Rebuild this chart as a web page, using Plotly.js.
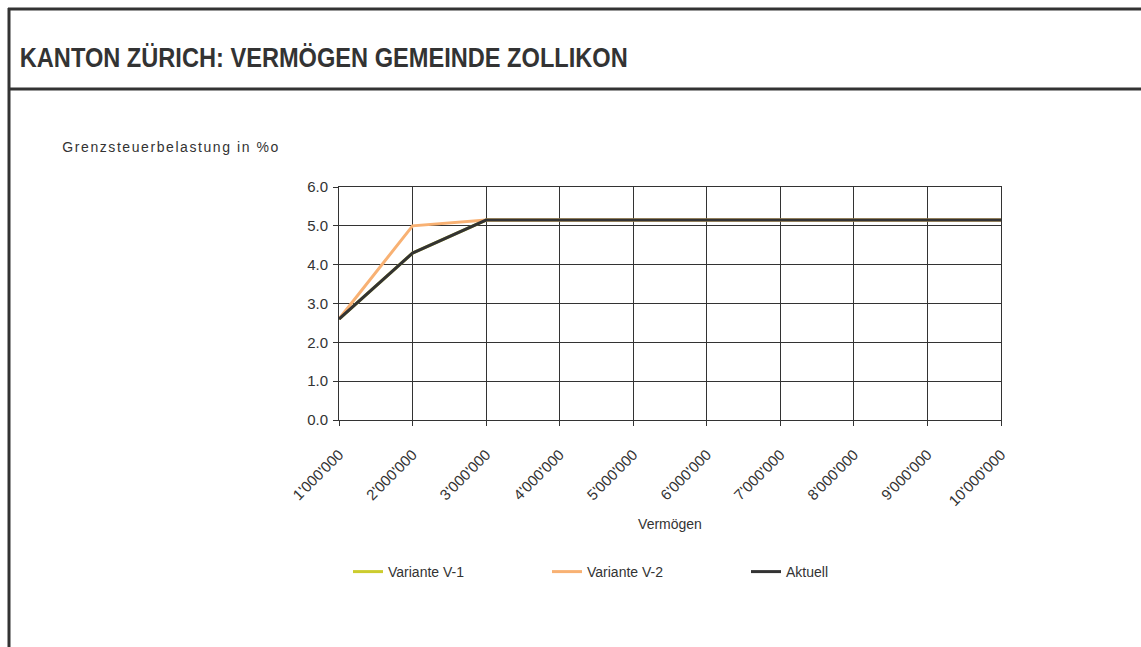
<!DOCTYPE html>
<html>
<head>
<meta charset="utf-8">
<script src="https://cdn.plot.ly/plotly-3.0.1.min.js"></script>
<style>
html,body{margin:0;padding:0;background:#fff;}
#chart{width:1141px;height:647px;}
</style>
</head>
<body>
<div id="chart"></div>
<script>
var vermoegen = [1000000, 2000000, 3000000, 4000000, 5000000, 6000000, 7000000, 8000000, 9000000, 10000000];
var tickLabels = ["1'000'000","2'000'000","3'000'000","4'000'000","5'000'000","6'000'000","7'000'000","8'000'000","9'000'000","10'000'000"];
var varianteV1 = [2.6, 4.3, 5.15, 5.15, 5.15, 5.15, 5.15, 5.15, 5.15, 5.15];
var varianteV2 = [2.6, 5.0, 5.15, 5.15, 5.15, 5.15, 5.15, 5.15, 5.15, 5.15];
var aktuell    = [2.6, 4.3, 5.15, 5.15, 5.15, 5.15, 5.15, 5.15, 5.15, 5.15];
var yTicks = [0, 1, 2, 3, 4, 5, 6];

var W = 1141, H = 647, L = 339, R = 140, T = 187, B = 227;
var pw = W - L - R, ph = H - T - B;
function px(x){ return (x - L) / pw; }
function py(y){ return (H - B - y) / ph; }

var font = "Liberation Sans, Arial, sans-serif";
var traces = [
  {x: vermoegen, y: varianteV1, name: 'Variante V-1', mode: 'lines', line: {color: '#cccc2e', width: 3}},
  {x: vermoegen, y: varianteV2, name: 'Variante V-2', mode: 'lines', line: {color: '#f8b173', width: 3}},
  {x: vermoegen, y: aktuell, name: 'Aktuell', mode: 'lines', line: {color: '#333333', width: 3}}
];

var layout = {
  width: W, height: H,
  margin: {l: L, r: R, t: T, b: B, pad: 0},
  paper_bgcolor: '#ffffff', plot_bgcolor: '#ffffff',
  font: {family: font, size: 14, color: '#333333'},
  showlegend: true,
  legend: {
    orientation: 'h', x: px(348), y: py(572), xanchor: 'left', yanchor: 'middle',
    entrywidth: 154, entrywidthmode: 'pixels',
    font: {family: font, size: 14, color: '#333333'},
    bgcolor: 'rgba(0,0,0,0)', itemclick: false
  },
  xaxis: {
    type: 'linear', range: [1000000, 10000000],
    tickmode: 'array', tickvals: vermoegen, ticktext: tickLabels,
    tickangle: -45, ticks: 'outside', ticklen: 5, tickcolor: '#333',
    ticklabelstandoff: 14,
    showgrid: true, gridcolor: '#333333', gridwidth: 1,
    showline: true, linecolor: '#333333', linewidth: 1, mirror: true,
    zeroline: false, fixedrange: true,
    tickfont: {family: font, size: 15, color: '#333333'},
    title: {text: 'Vermögen', font: {family: font, size: 14, color: '#333333'}, standoff: 11}
  },
  yaxis: {
    range: [0, 6], tickmode: 'array', tickvals: yTicks,
    tickformat: '.1f', ticks: 'outside', ticklen: 5, tickcolor: '#333',
    ticklabelstandoff: 2,
    showgrid: true, gridcolor: '#333333', gridwidth: 1,
    showline: true, linecolor: '#333333', linewidth: 1, mirror: true,
    zeroline: false, fixedrange: true,
    tickfont: {family: font, size: 15, color: '#333333'}
  },
  shapes: [
    {type: 'line', xref: 'paper', yref: 'paper', x0: px(9), x1: px(9), y0: py(8), y1: py(660), line: {color: '#333333', width: 3}},
    {type: 'line', xref: 'paper', yref: 'paper', x0: px(8), x1: px(1160), y0: py(9), y1: py(9), line: {color: '#333333', width: 3}},
    {type: 'line', xref: 'paper', yref: 'paper', x0: px(8), x1: px(1160), y0: py(89), y1: py(89), line: {color: '#333333', width: 3}}
  ],
  annotations: [
    {xref: 'paper', yref: 'paper', x: px(324), y: py(58), xanchor: 'center', yanchor: 'middle', showarrow: false,
     text: 'KANTON ZÜRICH: VERMÖGEN GEMEINDE ZOLLIKON',
     font: {family: 'Liberation Sans, Arial, sans-serif', size: 27, weight: 700, color: '#333333'}},
    {xref: 'paper', yref: 'paper', x: px(170), y: py(147), xanchor: 'center', yanchor: 'middle', showarrow: false,
     text: 'Grenzsteuerbelastung in %o', font: {family: font, size: 14, color: '#333333'}}
  ]
};

Plotly.newPlot('chart', traces, layout, {displayModeBar: false, staticPlot: true}).then(function(){
  var anns = document.querySelectorAll('.annotation-text');
  if (anns[0]) { anns[0].setAttribute('textLength', '608'); anns[0].setAttribute('lengthAdjust', 'spacingAndGlyphs'); }
  if (anns[1]) { anns[1].setAttribute('textLength', '216'); anns[1].setAttribute('lengthAdjust', 'spacing'); }
});
</script>
</body>
</html>
